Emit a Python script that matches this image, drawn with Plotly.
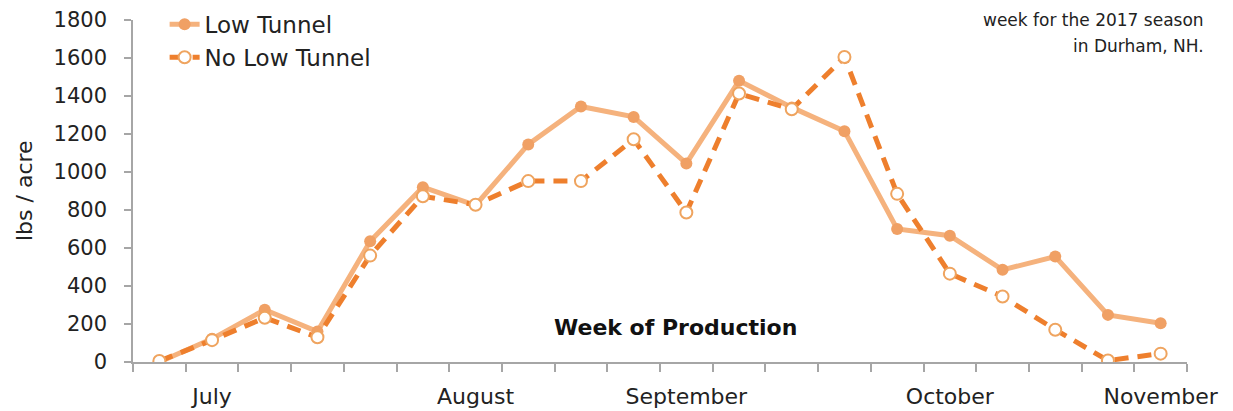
import plotly.graph_objects as go

weeks = [f"Week {i}" for i in range(1, 21)]
low_tunnel = [0, 122, 275, 160, 635, 920, 825, 1145, 1345, 1290, 1045, 1480, 1340, 1215, 700, 665, 485, 555, 248, 204]
no_low_tunnel = [5, 115, 233, 130, 560, 872, 828, 952, 952, 1172, 787, 1413, 1330, 1605, 885, 465, 345, 170, 8, 44]
month_labels = {"Week 2": "July", "Week 7": "August", "Week 11": "September", "Week 16": "October", "Week 20": "November"}
tick_text = [month_labels.get(w, "") for w in weeks]
y_ticks = [0, 200, 400, 600, 800, 1000, 1200, 1400, 1600, 1800]

FONT = "DejaVu Sans"
fig = go.Figure()
fig.add_trace(go.Scatter(
    x=weeks, y=low_tunnel, name="Low Tunnel", mode="lines+markers",
    line=dict(color="#F5B27D", width=5),
    marker=dict(color="#F0A064", size=12, line=dict(width=0)),
))
fig.add_trace(go.Scatter(
    x=weeks, y=no_low_tunnel, name="No Low Tunnel", mode="lines+markers",
    line=dict(color="#EE7F2D", width=5, dash="14px,9px"),
    marker=dict(color="white", size=12, line=dict(color="#EFA45F", width=2)),
))

fig.update_layout(
    width=1225, height=403,
    margin=dict(l=125, r=46, t=12, b=49, autoexpand=False),
    paper_bgcolor="white", plot_bgcolor="white",
    font=dict(family=FONT, color="#222222", size=21),
    showlegend=True,
    legend=dict(x=0.03, y=1.05, xanchor="left", yanchor="top",
                font=dict(family=FONT, size=23, color="#222222"),
                bgcolor="rgba(0,0,0,0)", tracegroupgap=0),
    xaxis=dict(
        type="category", tickson="boundaries", tickvals=weeks, ticktext=tick_text,
        showline=True, linecolor="#A6A6A6", linewidth=1.5,
        ticks="outside", ticklen=8, tickcolor="#A6A6A6", tickwidth=1.5,
        showgrid=False, zeroline=False, tickangle=0, automargin=False,
        tickfont=dict(family=FONT, size=22, color="#222222"),
        ticklabelstandoff=14,
        range=[-0.5, 19.5],
    ),
    yaxis=dict(
        range=[0, 1800], tickvals=y_ticks,
        showline=True, linecolor="#A6A6A6", linewidth=1.5,
        ticks="outside", ticklen=7, tickcolor="#A6A6A6", tickwidth=1.5,
        showgrid=False, zeroline=False, automargin=False,
        tickfont=dict(family=FONT, size=21, color="#222222"),
        ticklabelstandoff=13,
    ),
    annotations=[
        dict(text="lbs / acre", textangle=-90, xref="paper", yref="paper",
             x=-0.1034, y=0.5, xanchor="center", yanchor="middle", showarrow=False,
             font=dict(family=FONT, size=22, color="#222222")),
        dict(text="<b>Week of Production</b>", xref="paper", yref="paper",
             x=0.515, y=0.102, xanchor="center", yanchor="middle", showarrow=False,
             font=dict(family=FONT, size=22, color="#111111")),
        dict(text="week for the 2017 season", xref="paper", yref="paper",
             x=1.018, y=1.0, xanchor="right", yanchor="middle", showarrow=False,
             font=dict(family=FONT, size=17, color="#222222")),
        dict(text="in Durham, NH.", xref="paper", yref="paper",
             x=1.018, y=0.924, xanchor="right", yanchor="middle", showarrow=False,
             font=dict(family=FONT, size=17, color="#222222")),
    ],
)

fig.write_html("out.html")
